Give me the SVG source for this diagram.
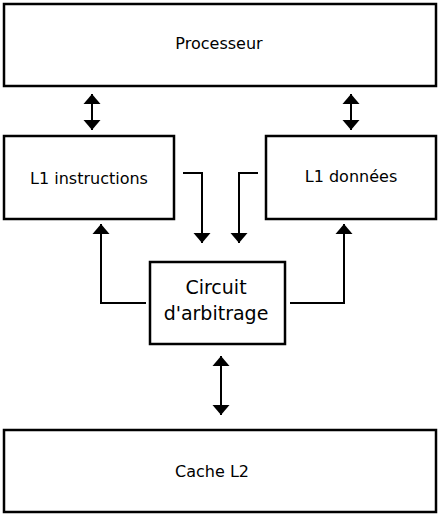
<svg xmlns="http://www.w3.org/2000/svg" width="440" height="518" viewBox="0 0 440 518">
<style>
.box{fill:#fff;stroke:#000;stroke-width:2.5}
.lbl{font-family:"DejaVu Sans",Verdana,sans-serif;font-size:16px;fill:#000;text-anchor:middle}
.big{font-size:19px}
.con{fill:none;stroke:#000;stroke-width:2}
</style>
<defs>
<marker id="tip" markerUnits="userSpaceOnUse" markerWidth="12" markerHeight="18" refX="10" refY="0" orient="auto-start-reverse" viewBox="0 -9 12 18">
<path d="M0,-8.5 L10,0 L0,8.5 Z" fill="#000"/>
</marker>
</defs>
<rect width="440" height="518" fill="#fff"/>
<g id="connectors">
<line class="con" x1="92" y1="94" x2="92" y2="130" marker-start="url(#tip)" marker-end="url(#tip)"/>
<line class="con" x1="351" y1="94" x2="351" y2="130" marker-start="url(#tip)" marker-end="url(#tip)"/>
<polyline class="con" points="183,173 202,173 202,243" marker-end="url(#tip)"/>
<polyline class="con" points="258,173 239,173 239,243" marker-end="url(#tip)"/>
<polyline class="con" points="146,303 101,303 101,224" marker-end="url(#tip)"/>
<polyline class="con" points="290,303 344,303 344,224" marker-end="url(#tip)"/>
<line class="con" x1="221" y1="356" x2="221" y2="415" marker-start="url(#tip)" marker-end="url(#tip)"/>
</g>
<g id="processeur">
<rect class="box" x="4" y="4" width="432" height="82"/>
<text class="lbl" x="219" y="49">Processeur</text>
</g>
<g id="l1i">
<rect class="box" x="4" y="136" width="170" height="83"/>
<text class="lbl" x="89" y="184">L1 instructions</text>
</g>
<g id="l1d">
<rect class="box" x="266" y="136" width="170" height="83"/>
<text class="lbl" x="351" y="182">L1 données</text>
</g>
<g id="circuit">
<rect class="box" x="150" y="262" width="135" height="82"/>
<text class="lbl big" x="216" y="294">Circuit</text>
<text class="lbl big" x="216" y="320">d'arbitrage</text>
</g>
<g id="l2">
<rect class="box" x="4" y="430" width="432" height="82"/>
<text class="lbl" x="212" y="477">Cache L2</text>
</g>
</svg>
